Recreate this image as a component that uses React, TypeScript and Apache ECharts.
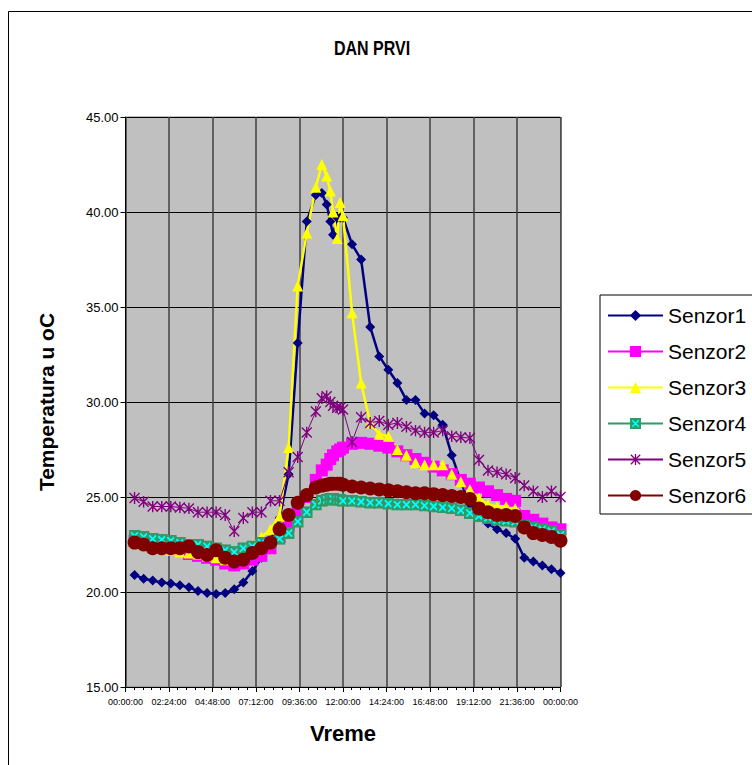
import React, { useEffect, useRef } from "react";
import * as echarts from "echarts";

// Time of each reading, in hours of the day
const TIMES = [
  0.5, 1, 1.5, 2, 2.5, 3, 3.5, 4, 4.5, 5, 5.5, 6, 6.5, 7, 7.5, 8, 8.5, 9, 9.5, 10, 10.5,
  10.83, 11.1, 11.3, 11.45, 11.68, 11.84, 12,
  12.5, 13, 13.5, 14, 14.5, 15, 15.5, 16, 16.5, 17, 17.5, 18, 18.5, 19, 19.5, 20, 20.5, 21, 21.5, 22, 22.5, 23, 23.5, 24,
];

const SENZOR1 = [
  20.9, 20.7, 20.6, 20.5, 20.45, 20.35, 20.25, 20.05, 19.95, 19.9, 19.95, 20.15, 20.5, 21.1, 21.8, 22.7, 23.9, 26.2, 33.1, 39.5, 40.9,
  41.0, 40.4, 39.5, 38.8, 39.7, 39.7, 39.7,
  38.3, 37.5, 33.95, 32.4, 31.7, 31.0, 30.1, 30.1, 29.4, 29.3, 28.8, 27.2, 25.8, 24.6, 24.0, 23.6, 23.3, 23.1, 22.8, 21.8, 21.6, 21.4, 21.2, 21.0,
];
const SENZOR2 = [
  22.7, 22.6, 22.5, 22.4, 22.3, 22.2, 22.0, 21.9, 21.8, 21.7, 21.5, 21.4, 21.5, 21.7, 21.9, 22.3, 22.9, 23.5, 24.2, 25.0, 25.9,
  26.4, 26.7, 27.0, 27.2, 27.4, 27.5, 27.6,
  27.8, 27.85, 27.8, 27.7, 27.6, 27.4, 27.2, 27.0, 26.8, 26.6, 26.4, 26.2, 25.9, 25.7, 25.5, 25.3, 25.1, 24.9, 24.8, 24.0, 23.8, 23.6, 23.4, 23.3,
];
const SENZOR3 = [
  22.6, 22.5, 22.4, 22.3, 22.2, 22.1, 22.05, 22.0, 21.9, 21.8, 21.7, 21.8, 22.1, 22.5, 22.9, 23.3, 24.0, 27.6, 36.1, 38.9, 41.3,
  42.5, 41.9, 41.1, 40.0, 38.6, 40.5, 39.8,
  34.7, 31.0, 28.9, 28.3, 28.2, 27.5, 27.2, 26.8, 26.7, 26.7, 26.7, 26.2, 25.8, 25.4, 24.95, 24.6, 24.5, 24.5, 24.4, 23.5, 23.3, 23.1, 23.0, 22.9,
];
const SENZOR4 = [
  22.95, 22.9, 22.8, 22.75, 22.7, 22.6, 22.5, 22.5, 22.4, 22.3, 22.2, 22.1, 22.3, 22.4, 22.6, 22.6, 22.8, 23.1, 23.7, 24.2, 24.6,
  24.8, 24.85, 24.9, 24.9, 24.85, 24.85, 24.8,
  24.8, 24.75, 24.7, 24.7, 24.65, 24.6, 24.6, 24.6, 24.55, 24.5, 24.45, 24.4, 24.3, 24.15, 24.0, 23.9, 23.8, 23.75, 23.7, 23.5, 23.4, 23.3, 23.2, 23.0,
];
const SENZOR5 = [
  24.95, 24.75, 24.5, 24.5, 24.5, 24.45, 24.4, 24.2, 24.2, 24.2, 24.05, 23.2, 23.9, 24.2, 24.2, 24.8, 24.8, 26.3, 27.1, 28.4, 29.5,
  30.2, 30.3, 30.0, 29.8, 29.7, 29.7, 29.6,
  27.9, 29.2, 28.9, 29.0, 28.8, 28.9, 28.7, 28.5, 28.4, 28.4, 28.5, 28.2, 28.15, 28.1, 26.95, 26.4, 26.3, 26.2, 26.0, 25.6, 25.3, 25.0, 25.3, 25.0,
];
const SENZOR6 = [
  22.6, 22.5, 22.3, 22.3, 22.3, 22.3, 22.4, 22.1, 21.95, 22.2, 21.8, 21.6, 21.7, 22.05, 22.3, 22.6, 23.3, 24.05, 24.7, 25.1, 25.5,
  25.6, 25.65, 25.7, 25.7, 25.7, 25.7, 25.65,
  25.55, 25.5, 25.45, 25.4, 25.35, 25.3, 25.25, 25.2, 25.2, 25.15, 25.1, 25.05, 25.0, 24.9, 24.4, 24.2, 24.05, 24.05, 24.0, 23.4, 23.1, 23.0, 22.9, 22.7,
];

const SERIES_NAMES = ["Senzor1", "Senzor2", "Senzor3", "Senzor4", "Senzor5", "Senzor6"];
const TITLE = "DAN PRVI";
const X_NAME = "Vreme";
const Y_NAME = "Temperatura u oC";

const FONT = '"Liberation Sans", Arial, sans-serif';

const svgSymbol = (svg: string) =>
  "image://data:image/svg+xml;charset=utf-8," + encodeURIComponent(svg);

const SYM_SENZOR4 = svgSymbol(
  "<svg xmlns='http://www.w3.org/2000/svg' width='12' height='12' viewBox='0 0 12 12'><rect x='0' y='0' width='12' height='12' fill='#339966'/><path d='M2.5 2.5L9.5 9.5M9.5 2.5L2.5 9.5' stroke='#00ffff' stroke-width='1.8' fill='none'/></svg>"
);
const SYM_SENZOR5 = svgSymbol(
  "<svg xmlns='http://www.w3.org/2000/svg' width='12' height='12' viewBox='0 0 12 12'><path d='M1 1L11 11M11 1L1 11M6 0V12' stroke='#800080' stroke-width='1.4' fill='none'/></svg>"
);

const pad2 = (n: number) => (n < 10 ? "0" + n : "" + n);
const fmtTime = (v: number) => {
  const m = Math.round(v * 60) % 1440;
  return `${pad2(Math.floor(m / 60))}:${pad2(m % 60)}:00`;
};

const toData = (vals: number[]) => TIMES.map((t, i) => [t, vals[i]]);

export default function App() {
  const ref = useRef<HTMLDivElement>(null);
  useEffect(() => {
    if (!ref.current) return;
    const chart = echarts.init(ref.current, undefined, { renderer: "svg" });
    const W = 752;
    const H = 765;
    const plotL = 125.5;
    const plotR = 560.5;
    const plotT = 117;
    const plotB = 687;
    const common = {
      type: "line",
      showAllSymbol: true,
      emphasis: { disabled: true },
      silent: true,
    };
    chart.setOption({
      animation: false,
      backgroundColor: "#ffffff",
      textStyle: { fontFamily: FONT },
      grid: {
        left: plotL,
        right: W - plotR,
        top: plotT,
        bottom: H - plotB,
        show: true,
        backgroundColor: "#c0c0c0",
        borderColor: "#808080",
        borderWidth: 1,
      },
      xAxis: {
        type: "value",
        min: 0,
        max: 24,
        interval: 2.4,
        axisLine: { show: true, onZero: false, lineStyle: { color: "#000", width: 1 } },
        axisTick: { show: true, length: 5, lineStyle: { color: "#000" } },
        minorTick: { show: true, splitNumber: 5, length: 3, lineStyle: { color: "#000" } },
        splitLine: { show: true, lineStyle: { color: "#404040", width: 1.5 } },
        axisLabel: { fontSize: 9, color: "#000", margin: 10, formatter: fmtTime, fontFamily: FONT },
      },
      yAxis: {
        type: "value",
        min: 15,
        max: 45,
        interval: 5,
        axisLine: { show: true, lineStyle: { color: "#000", width: 1 } },
        axisTick: { show: true, length: 5, lineStyle: { color: "#000" } },
        splitLine: { show: true, lineStyle: { color: "#000", width: 1 } },
        axisLabel: {
          fontSize: 13,
          color: "#000",
          margin: 7,
          fontFamily: FONT,
          formatter: (v: number) => v.toFixed(2),
        },
      },
      legend: {
        orient: "vertical",
        left: 600,
        top: 295,
        backgroundColor: "#ffffff",
        borderColor: "#000",
        borderWidth: 1,
        borderRadius: 0,
        padding: [10, 30, 8, 7],
        itemGap: 15,
        itemWidth: 55,
        itemHeight: 14,
        selectedMode: false,
        textStyle: { fontSize: 21, color: "#000", fontFamily: FONT },
        data: SERIES_NAMES,
      },
      graphic: [
        {
          type: "rect",
          silent: true,
          shape: { x: 8.5, y: 11.5, width: 900, height: 900 },
          style: { fill: "none", stroke: "#000", lineWidth: 1 },
        },
        {
          type: "text",
          x: 372,
          y: 48,
          scaleX: 0.8,
          silent: true,
          style: {
            text: TITLE,
            font: `bold 20px ${FONT}`,
            fill: "#000",
            textAlign: "center",
            textVerticalAlign: "middle",
          },
        },
        {
          type: "text",
          x: (plotL + plotR) / 2,
          y: 733,
          silent: true,
          style: {
            text: X_NAME,
            font: `bold 22px ${FONT}`,
            fill: "#000",
            textAlign: "center",
            textVerticalAlign: "middle",
          },
        },
        {
          type: "text",
          x: 46,
          y: (plotT + plotB) / 2,
          rotation: Math.PI / 2,
          silent: true,
          style: {
            text: Y_NAME,
            font: `bold 21px ${FONT}`,
            fill: "#000",
            textAlign: "center",
            textVerticalAlign: "middle",
          },
        },
      ],
      series: [
        {
          ...common,
          name: SERIES_NAMES[0],
          data: toData(SENZOR1),
          symbol: "diamond",
          symbolSize: 10,
          lineStyle: { color: "#000080", width: 2.5 },
          itemStyle: { color: "#000080" },
        },
        {
          ...common,
          name: SERIES_NAMES[1],
          data: toData(SENZOR2),
          symbol: "rect",
          symbolSize: 12,
          lineStyle: { color: "#ff00ff", width: 1 },
          itemStyle: { color: "#ff00ff" },
        },
        {
          ...common,
          name: SERIES_NAMES[2],
          data: toData(SENZOR3),
          symbol: "triangle",
          symbolSize: 11,
          lineStyle: { color: "#ffff00", width: 2.5 },
          itemStyle: { color: "#ffff00" },
        },
        {
          ...common,
          name: SERIES_NAMES[3],
          data: toData(SENZOR4),
          symbol: SYM_SENZOR4,
          symbolSize: 12,
          lineStyle: { color: "#339966", width: 2.5 },
          itemStyle: { color: "#339966" },
        },
        {
          ...common,
          name: SERIES_NAMES[4],
          data: toData(SENZOR5),
          symbol: SYM_SENZOR5,
          symbolSize: 12,
          lineStyle: { color: "#800080", width: 1 },
          itemStyle: { color: "#800080" },
        },
        {
          ...common,
          name: SERIES_NAMES[5],
          data: toData(SENZOR6),
          symbol: "circle",
          symbolSize: 14,
          lineStyle: { color: "#800000", width: 1 },
          itemStyle: { color: "#800000" },
        },
      ],
    });
    return () => chart.dispose();
  }, []);
  return (
    <div
      ref={ref}
      style={{ position: "fixed", left: 0, top: 0, width: 752, height: 765 }}
    />
  );
}
